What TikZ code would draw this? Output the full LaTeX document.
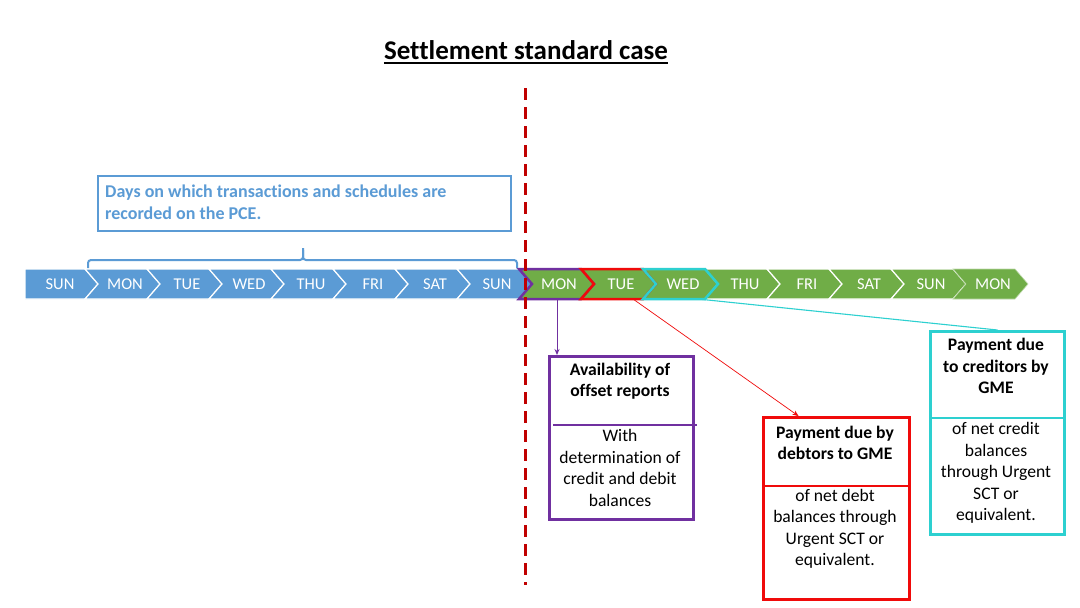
\documentclass[tikz,border=0pt]{standalone}
\usepackage{fontspec}
\setmainfont{Carlito}[Ligatures=NoCommon]
\usetikzlibrary{arrows.meta}
\definecolor{dayblue}{RGB}{91,155,213}
\definecolor{daygreen}{RGB}{112,173,71}
\definecolor{mpurple}{RGB}{112,48,160}
\definecolor{mred}{RGB}{240,10,10}
\definecolor{mcyan}{RGB}{45,208,208}
\definecolor{dashred}{RGB}{192,0,0}
\tikzset{
  chev/.style={line width=1.2pt, draw=white},
  daylbl/.style={text=white, font=\fontsize{16.5}{18}\selectfont, inner sep=0},
  boxtext/.style={align=center, font=\fontsize{17.6}{21.5}\selectfont, inner sep=0},
  boxhead/.style={align=center, font=\fontsize{17.6}{21.5}\selectfont\bfseries, inner sep=0},
  frame/.style={draw, line width=3pt, inner sep=0, anchor=north west},
}
\begin{document}
\begin{tikzpicture}[x=1pt,y=-1pt]
\useasboundingbox (0,0) rectangle (1080,608);
\fill[white] (0,0) rectangle (1080,608);

% title
\node[font=\fontsize{27}{30}\selectfont\bfseries, inner sep=0] (title) at (526,50) {Settlement standard case};
\draw[line width=2pt] ([yshift=-4pt]title.base west) -- ([yshift=-4pt]title.base east);

% blue chevrons
\fill[dayblue, chev] (25,269) -- (85,269) -- (98,284) -- (85,299) -- (25,299) -- cycle;
\foreach \k in {0,...,6} {
  \pgfmathsetmacro\L{85+62*\k}
  \pgfmathsetmacro\R{\L+62}
  \filldraw[fill=dayblue, chev] (\L,269) -- (\R,269) -- (\R+13,284) -- (\R,299) -- (\L,299) -- (\L+13,284) -- cycle;
}
% green chevrons
\foreach \k in {0,...,6} {
  \pgfmathsetmacro\L{519+62*\k}
  \pgfmathsetmacro\R{\L+62}
  \filldraw[fill=daygreen, chev] (\L,269) -- (\R,269) -- (\R+13,284) -- (\R,299) -- (\L,299) -- (\L+13,284) -- cycle;
}
\filldraw[fill=daygreen, draw=white!55!daygreen, line width=0.6pt] (953,269) -- (1015,269) -- (1028,284) -- (1015,299) -- (953,299) -- (966,284) -- cycle;

% highlighted chevrons
\draw[mpurple, line width=2.5pt, line join=miter] (519,269) -- (581,269) -- (594,284) -- (581,299) -- (519,299) -- (532,284) -- cycle;
\draw[mred, line width=2.5pt, line join=miter] (581,269) -- (643,269) -- (656,284) -- (643,299) -- (581,299) -- (594,284) -- cycle;
\draw[mcyan, line width=2.5pt, line join=miter] (643,269) -- (705,269) -- (718,284) -- (705,299) -- (643,299) -- (656,284) -- cycle;

% day labels
\node[daylbl] (b0) at (60,284) {SUN};
\foreach \n [count=\i] in {MON,TUE,WED,THU,FRI,SAT,SUN} {
  \node[daylbl] (b\i) at (85+62*\i-22,284) {\n};
}
\foreach \n [count=\i from 0] in {MON,TUE,WED,THU,FRI,SAT,SUN,MON} {
  \node[daylbl] (g\i) at (559+62*\i,284) {\n};
}

% brace and blue box
\draw[dayblue, line width=2pt, rounded corners=3pt] (88,268) |- (303,260) -- (303,248);
\draw[dayblue, line width=2pt, rounded corners=3pt] (303,250) -- (303,260) -| (517,268);
\node[frame, draw=dayblue, line width=2pt, minimum width=413pt, minimum height=55pt] (dbox) at (97,175) {};
\node[anchor=west, align=left, inner sep=0, text=dayblue, font=\fontsize{18}{22}\selectfont\bfseries] (dtext) at (105,202) {Days on which transactions and schedules are\\recorded on the PCE.};

% purple box
\node[frame, draw=mpurple, minimum width=144pt, minimum height=163pt] (pbox) at (548,355) {};
\draw[mpurple, line width=2.5pt] (553,425) -- (697,425);
\node[boxhead] (phead) at (620,381) {Availability of\\offset reports};
\node[boxtext] (pbody) at (620,468) {With\\determination of\\credit and debit\\balances};

% red box
\node[frame, draw=mred, minimum width=146pt, minimum height=182pt] (rbox) at (762,416) {};
\draw[mred, line width=2.5pt] (762,486) -- (908,486);
\node[boxhead] (rhead) at (835,443) {Payment due by\\debtors to GME};
\node[boxtext] (rbody) at (835,529) {of net debt\\balances through\\Urgent SCT or\\equivalent.};

% cyan box
\node[frame, draw=mcyan, minimum width=134pt, minimum height=203pt] (cbox) at (929,330) {};
\draw[mcyan, line width=2.5pt] (929,418) -- (1063,418);
\node[boxhead] (chead) at (996,366) {Payment due\\to creditors by\\GME};
\node[boxtext] (cbody) at (996,473) {of net credit\\balances\\through Urgent\\SCT or\\equivalent.};

% connectors
\coordinate (monB) at (557,299);
\coordinate (tueB) at (633,299);
\coordinate (wedB) at (698,299);
\draw[mpurple, line width=0.9pt, -{Stealth[length=6pt,width=5pt]}] (monB) -- (monB |- pbox.north);
\draw[mred, line width=0.7pt, -{Stealth[length=6pt,width=5pt]}] (tueB) -- ([xshift=-38pt]rbox.north);
\draw[mcyan, line width=1.1pt] (wedB) -- (cbox.north);

% dashed separator
\coordinate (dtop) at (525,88);
\coordinate (dbot) at (525,585);
\draw[dashred, line width=3pt, dash pattern=on 12pt off 7pt] (dtop) -- (dbot);
\end{tikzpicture}
\end{document}
